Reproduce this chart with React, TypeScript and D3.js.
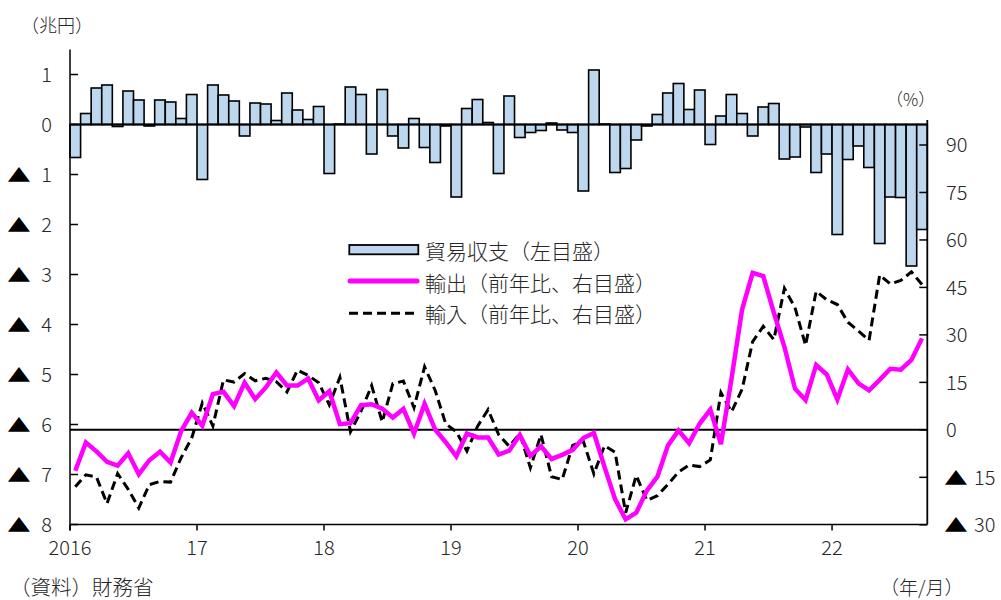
import React from 'react';
import * as d3 from 'd3';

const years = [2016, 2017, 2018, 2019, 2020, 2021, 2022];
const monthsPerYear = [12, 12, 12, 12, 12, 12, 9];
const months: string[] = [];
years.forEach((y, i) => {
  for (let m = 1; m <= monthsPerYear[i]; m++) months.push(`${y}-${String(m).padStart(2, '0')}`);
});

// 貿易収支 (兆円)
const tradeBalance = [
  -0.66, 0.22, 0.73, 0.79, -0.04, 0.67, 0.49, -0.03, 0.49, 0.45, 0.12, 0.60,
  -1.10, 0.79, 0.59, 0.47, -0.23, 0.43, 0.41, 0.08, 0.63, 0.29, 0.10, 0.36,
  -0.98, 0.01, 0.75, 0.60, -0.59, 0.70, -0.23, -0.47, 0.12, -0.46, -0.76, -0.03,
  -1.45, 0.32, 0.50, 0.04, -0.98, 0.57, -0.26, -0.16, -0.12, 0.03, -0.11, -0.16,
  -1.33, 1.09, 0.01, -0.96, -0.88, -0.31, -0.03, 0.20, 0.63, 0.82, 0.30, 0.69,
  -0.40, 0.17, 0.60, 0.22, -0.23, 0.35, 0.42, -0.69, -0.65, -0.05, -0.96, -0.59,
  -2.20, -0.70, -0.43, -0.86, -2.38, -1.45, -1.46, -2.83, -2.10,
];

// 輸出 前年比 (%)
const exportsYoY = [
  -12.9, -4.0, -6.8, -10.1, -11.3, -7.4, -14.0, -9.6, -6.9, -10.3, -0.4, 5.4,
  1.3, 11.3, 12.0, 7.5, 14.9, 9.7, 13.4, 18.1, 14.0, 14.0, 16.2, 9.3,
  12.2, 1.8, 2.1, 7.8, 8.1, 6.7, 3.9, 6.6, -1.2, 8.2, 0.1, -3.9,
  -8.4, -1.2, -2.4, -2.4, -7.8, -6.6, -1.6, -8.2, -5.2, -9.2, -7.9, -6.3,
  -2.6, -1.0, -11.7, -21.9, -28.3, -26.2, -19.2, -14.8, -4.9, -0.2, -4.2, 2.0,
  6.4, -4.5, 16.1, 38.0, 49.6, 48.6, 37.0, 26.2, 13.0, 9.4, 20.5, 17.5,
  9.6, 19.1, 14.7, 12.5, 15.8, 19.3, 19.0, 22.1, 28.9,
];

// 輸入 前年比 (%)
const importsYoY = [
  -18.0, -14.2, -14.9, -23.3, -13.8, -18.8, -24.7, -17.3, -16.3, -16.5, -8.8, -2.6,
  8.5, 1.2, 15.8, 15.1, 17.8, 15.5, 16.3, 15.2, 12.0, 18.9, 17.2, 14.9,
  7.9, 16.6, -0.6, 5.9, 14.0, 2.5, 14.6, 15.4, 7.0, 19.9, 12.5, 1.9,
  -0.6, -6.7, 1.1, 6.4, -1.5, -5.2, -1.2, -12.0, -1.5, -14.8, -15.7, -4.9,
  -3.6, -13.9, -5.0, -7.1, -26.2, -14.4, -22.3, -20.8, -17.2, -13.3, -11.1, -11.6,
  -9.5, 11.8, 5.7, 12.8, 27.9, 32.7, 28.5, 44.7, 38.6, 26.7, 43.8, 41.1,
  39.6, 34.0, 31.2, 28.3, 48.9, 46.1, 47.2, 49.9, 45.9,
];

const leftTicks = [1, 0, -1, -2, -3, -4, -5, -6, -7, -8];
const rightTicks = [90, 75, 60, 45, 30, 15, 0, -15, -30];
const yearLabels = ['2016', '17', '18', '19', '20', '21', '22'];
const legendLabels = ['貿易収支（左目盛）', '輸出（前年比、右目盛）', '輸入（前年比、右目盛）'];

const FONT = "'Noto Sans CJK JP', 'Noto Sans', sans-serif";
const TXT = '#262626';
const FW = 300;

export default function App() {
  const X0 = 70, X1 = 927.3, YB = 524.5;
  const x = d3.scaleBand<string>().domain(months).range([X0, X1]).padding(0);
  const bw = x.bandwidth();
  const yL = d3.scaleLinear().domain([-8, 1.5]).range([YB, 49.5]);
  const yR = d3.scaleLinear().domain([-30, 100]).range([524.8, 524.8 - 130 * 3.165]);
  const cx = (i: number) => (x(months[i]) as number) + bw / 2;

  const lineExp = d3.line<number>().x((_, i) => cx(i)).y((d) => yR(d));
  const lineImp = d3.line<number>().x((_, i) => cx(i)).y((d) => yR(d));

  const yearX = years.map((y) => x(`${y}-01`) as number);

  const tri = (tx: number, ty: number, key: string) => (
    <text key={key} transform={`translate(${tx},${ty}) scale(1.3,1)`} textAnchor="middle" dy="0.35em"
      fontSize={18} fill="#000" fontFamily={FONT}>▲</text>
  );

  return (
    <svg width={1001} height={600} style={{ position: 'absolute', left: 0, top: 0, background: '#fff' }}
      fontFamily={FONT} fontWeight={FW}>
      <rect x={0} y={0} width={1001} height={600} fill="#fff" />
      {/* bars */}
      {tradeBalance.map((v, i) => (
        <rect key={i} x={x(months[i])} width={bw} y={Math.min(yL(v), yL(0))}
          height={Math.abs(yL(v) - yL(0))} fill="#BDD7EE" stroke="#000" strokeWidth={1.6} />
      ))}
      <line x1={X0} x2={X1} y1={yL(0)} y2={yL(0)} stroke="#000" strokeWidth={2} />
      {/* right zero line */}
      <line x1={X0} x2={X1} y1={yR(0)} y2={yR(0)} stroke="#000" strokeWidth={2} />
      {/* lines */}
      <path d={lineImp(importsYoY) as string} fill="none" stroke="#000" strokeWidth={3} strokeDasharray="9,5" />
      <path d={lineExp(exportsYoY) as string} fill="none" stroke="#FF00FF" strokeWidth={4.5} />
      {/* axes */}
      <line x1={X0} x2={X0} y1={49.5} y2={YB + 6} stroke="#000" strokeWidth={1.5} />
      <line x1={X0} x2={X1} y1={YB} y2={YB} stroke="#000" strokeWidth={1.5} />
      <line x1={X1} x2={X1} y1={120} y2={YB} stroke="#000" strokeWidth={1.8} />
      {leftTicks.map((t) => (
        <g key={`l${t}`}>
          <line x1={X0} x2={X0 + 8} y1={yL(t)} y2={yL(t)} stroke="#000" strokeWidth={1.5} />
          <text x={52} y={yL(t)} dy="0.36em" textAnchor="end" fontSize={20} fill={TXT}>{Math.abs(t)}</text>
          {t < 0 ? tri(19, yL(t) + 1, `lt${t}`) : null}
        </g>
      ))}
      {rightTicks.map((t) => (
        <g key={`r${t}`}>
          <line x1={X1 - 8} x2={X1} y1={yR(t)} y2={yR(t)} stroke="#000" strokeWidth={1.5} />
          <text x={t < 0 ? 974 : 946} y={yR(t)} dy="0.36em" textAnchor="start" fontSize={20} fill={TXT}>{Math.abs(t)}</text>
          {t < 0 ? tri(956, yR(t) + 1, `rt${t}`) : null}
        </g>
      ))}
      {yearX.map((xx, i) => (
        <g key={`y${i}`}>
          <line x1={xx} x2={xx} y1={YB} y2={YB + 6} stroke="#000" strokeWidth={1.5} />
          <text x={xx} y={555} textAnchor="middle" fontSize={20} fill={TXT}>{yearLabels[i]}</text>
        </g>
      ))}
      {/* unit labels */}
      <text x={21} y={32} fontSize={18} fill={TXT}>（兆円）</text>
      <text x={886} y={106} fontSize={17} fill={TXT}>（%）</text>
      <text x={10} y={595} fontSize={20.5} fill={TXT}>（資料）財務省</text>
      <text x={880} y={595} fontSize={19} fill={TXT}>（年/月）</text>
      {/* legend */}
      <rect x={349.3} y={245} width={69} height={9.3} fill="#BDD7EE" stroke="#000" strokeWidth={1.8} />
      <line x1={350} x2={417} y1={281} y2={281} stroke="#FF00FF" strokeWidth={5} strokeLinecap="round" />
      <line x1={349} x2={418} y1={313.3} y2={313.3} stroke="#000" strokeWidth={3} strokeDasharray="9,5" />
      {legendLabels.map((l, i) => (
        <text key={l} x={425} y={259 + i * 31.7} fontSize={21} fill={TXT}>{l}</text>
      ))}
    </svg>
  );
}
